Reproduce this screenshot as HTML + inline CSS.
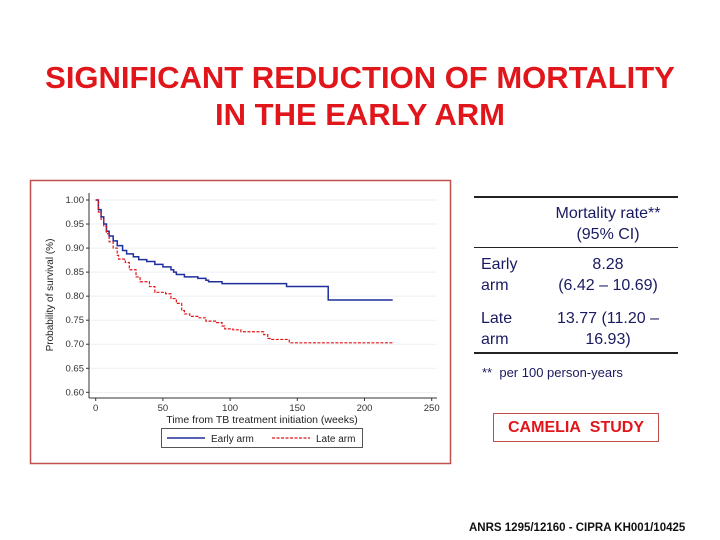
<!DOCTYPE html>
<html><head><meta charset="utf-8"><style>
body{margin:0;width:720px;height:540px;background:#fff;position:relative;overflow:hidden;font-family:"Liberation Sans",sans-serif}
.t{position:absolute;left:0;width:720px;text-align:center;color:#e0161b;font-weight:bold;font-size:31px;line-height:37px;white-space:nowrap}
.cell{position:absolute;font-size:16px;color:#1a1a60;line-height:21px}
.hr{position:absolute;left:474px;width:204px;height:2px;background:#222}
</style></head><body>
<div class="t" style="top:59px">SIGNIFICANT REDUCTION OF MORTALITY<br>IN THE EARLY ARM</div>
<svg width="720" height="540" style="position:absolute;left:0;top:0" id="svg">
<rect x="30.5" y="180.5" width="420" height="283" fill="#fff" stroke="#c0504d" stroke-width="1.5"/>
<g id="grid"></g><g id="axes" font-size="9.5" fill="#333"></g><g id="lines"></g>
<text x="262" y="423" text-anchor="middle" font-size="10.5" fill="#222">Time from TB treatment initiation (weeks)</text>
<text transform="translate(53,295) rotate(-90)" text-anchor="middle" font-size="10" fill="#222">Probability of survival (%)</text>
<g>
<rect x="161.5" y="428.5" width="201" height="19" fill="#fff" stroke="#555"/>
<line x1="167" y1="438" x2="205" y2="438" stroke="#1f2f9c" stroke-width="1.5"/>
<text x="211" y="442" font-size="10" fill="#222">Early arm</text>
<line x1="272" y1="438" x2="310" y2="438" stroke="#e0161b" stroke-width="1.2" stroke-dasharray="3,1.5"/>
<text x="316" y="442" font-size="10" fill="#222">Late arm</text></g>
</svg>
<div class="hr" style="top:196px"></div>
<div class="hr" style="top:247px;height:1px"></div>
<div class="hr" style="top:352px"></div>
<div class="cell" style="left:548px;top:203px;width:120px;text-align:center">Mortality rate**<br>(95% CI)</div>
<div class="cell" style="left:481px;top:254px">Early<br>arm</div>
<div class="cell" style="left:548px;top:254px;width:120px;text-align:center">8.28<br>(6.42 – 10.69)</div>
<div class="cell" style="left:481px;top:308px">Late<br>arm</div>
<div class="cell" style="left:540px;top:308px;width:136px;text-align:center">13.77 (11.20 –<br>16.93)</div>
<div style="position:absolute;left:482px;top:365px;font-size:13px;color:#1a1a60">**&nbsp; per 100 person-years</div>
<div style="position:absolute;left:493px;top:413px;width:166px;height:29px;border:1px solid #c0504d;box-sizing:border-box;color:#e0161b;font-weight:bold;font-size:16px;text-align:center;line-height:27px">CAMELIA&nbsp; STUDY</div>
<div style="position:absolute;left:469px;top:522px;font-size:11.5px;font-weight:bold;color:#111">ANRS 1295/12160 - CIPRA KH001/10425</div>
<script>
const yTicks=[0.60,0.65,0.70,0.75,0.80,0.85,0.90,0.95,1.00];
const xTicks=[0,50,100,150,200,250];
const earlyT=[0,2,4,6,8,10,13,16,20,23,28,32,38,44,50,56,58,60,66,76,82,84,94,142,173,221];
const earlyS=[1,.98,.965,.95,.935,.925,.915,.905,.895,.888,.882,.876,.872,.866,.861,.855,.85,.845,.84,.837,.833,.83,.826,.82,.792,.792];
const lateT=[0,2,4,6,8,10,13,16,17,22,25,30,33,40,44,52,56,60,64,66,70,76,82,90,94,96,102,108,125,128,131,144,222];
const lateS=[1,.975,.96,.945,.93,.913,.9,.885,.877,.87,.855,.84,.83,.82,.808,.805,.795,.785,.77,.763,.758,.755,.748,.745,.738,.732,.73,.726,.72,.712,.71,.703,.703];
const X=t=>95.7+t*1.344, Y=s=>200+(1-s)/0.05*24.04;
const ns='http://www.w3.org/2000/svg';
function mk(tag,attrs,parent){const e=document.createElementNS(ns,tag);for(const k in attrs)e.setAttribute(k,attrs[k]);document.getElementById(parent).appendChild(e);return e;}
yTicks.forEach(v=>{
 const g=mk('line',{x1:89,x2:437,y1:Y(v),y2:Y(v),stroke:'#eaf0f3','stroke-width':1},'grid');
 
 
 mk('line',{x1:86,x2:89,y1:Y(v),y2:Y(v),stroke:'#333'},'axes');
 const t=mk('text',{x:84,y:Y(v)+3,'text-anchor':'end'},'axes');t.textContent=v.toFixed(2);
 
 
});
xTicks.forEach(v=>{
 mk('line',{x1:X(v),x2:X(v),y1:398,y2:401,stroke:'#333'},'axes');
 const t=mk('text',{x:X(v),y:411,'text-anchor':'middle'},'axes');t.textContent=v;
 
 
});
mk('line',{x1:89,x2:89,y1:193,y2:398,stroke:'#333'},'axes');
mk('line',{x1:89,x2:437,y1:398,y2:398,stroke:'#333'},'axes');
function step(T,S){let d='M'+X(T[0])+','+Y(S[0]);for(let i=1;i<T.length;i++){d+='H'+X(T[i])+'V'+Y(S[i]);}return d;}
const e=mk('path',{d:step(earlyT,earlyS),fill:'none',stroke:'#1f2f9c','stroke-width':1.5},'lines');


const l=mk('path',{d:step(lateT,lateS),fill:'none',stroke:'#e0161b','stroke-width':1.2,'stroke-dasharray':'3,1.5'},'lines');


</script>
</body></html>
